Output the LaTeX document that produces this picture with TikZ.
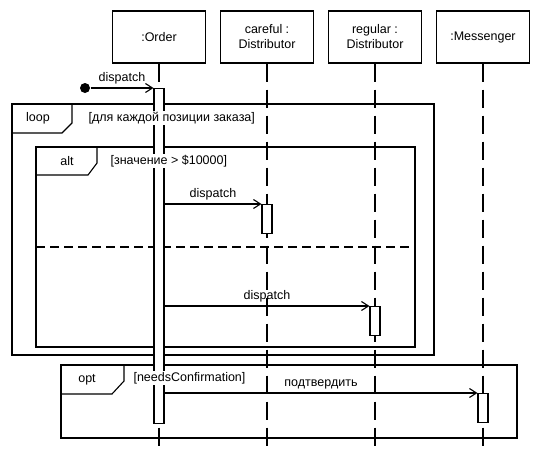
\documentclass[tikz,border=0pt]{standalone}
\usepackage{fontspec}
\setmainfont{Liberation Sans}
\usetikzlibrary{arrows.meta}
\begin{document}
\begin{tikzpicture}[x=1pt, y=-1pt, line width=1.1pt,
    font=\fontsize{12.5}{15}\selectfont,
    obj/.style={draw, minimum width=93pt, minimum height=52pt, align=center, inner sep=1pt},
    act/.style={draw, fill=white, minimum width=10pt, inner sep=0pt, anchor=north},
    life/.style={dash pattern=on 18pt off 8pt},
    msg/.style={-{Straight Barb[length=7pt, width=9pt]}},
    guard/.style={fill=white, inner sep=1pt, anchor=west}]
    \useasboundingbox (0,0) rectangle (538,453);
    \coordinate (bottom) at (0,453);

    \node[obj] (order) at (159,37) {:Order};
    \node[obj] (careful) at (267,37) {careful :\\Distributor};
    \node[obj] (regular) at (375,37) {regular :\\Distributor};
    \node[obj] (messenger) at (483,37) {:Messenger};

    \draw[life] (order) -- (order |- bottom);
    \draw[life] (careful) -- (careful |- bottom);
    \draw[life] (regular) -- (regular |- bottom);
    \draw[life] (messenger) -- (messenger |- bottom);

    \draw (12,104) rectangle (434,355);
    \draw (72,104) -- (72,123) -- (62,133) -- (12,133);
    \node (loop) at (38,118) {loop};
    \draw (36,147) rectangle (415,347);
    \draw (97,147) -- (97,163) -- (88,175) -- (36,175);
    \node (alt) at (67,161) {alt};
    \draw[dash pattern=on 9pt off 5pt] (36,247) -- (415,247);
    \draw (61,365) rectangle (517,438);
    \draw (124,365) -- (124,381) -- (112,394) -- (61,394);
    \node (opt) at (87,380) {opt};

    \node[act, minimum height=335pt] (obar) at (159,88) {};
    \node[act, minimum height=29pt] (cbar) at (267,204) {};
    \node[act, minimum height=29pt] (rbar) at (375,306) {};
    \node[act, minimum height=29pt] (mbar) at (483,393) {};

    \node[guard] (g1) at (87,118) {[для каждой позиции заказа]};
    \node[guard] (g2) at (109,161) {[значение > \$10000]};
    \node[guard] (g3) at (132,378) {[needsConfirmation]};

    \node[circle, fill, minimum size=10pt, inner sep=0pt] (start) at (85,88) {};
    \draw[msg] (start) -- (obar.north west) node[midway, above] {dispatch};
    \draw[msg] (obar.east |- cbar.north) -- (cbar.north west) node[midway, above] {dispatch};
    \draw[msg] (obar.east |- rbar.north) -- (rbar.north west) node[midway, above] {dispatch};
    \draw[msg] (obar.east |- mbar.north) -- (mbar.north west) node[midway, above] {подтвердить};
\end{tikzpicture}
\end{document}
